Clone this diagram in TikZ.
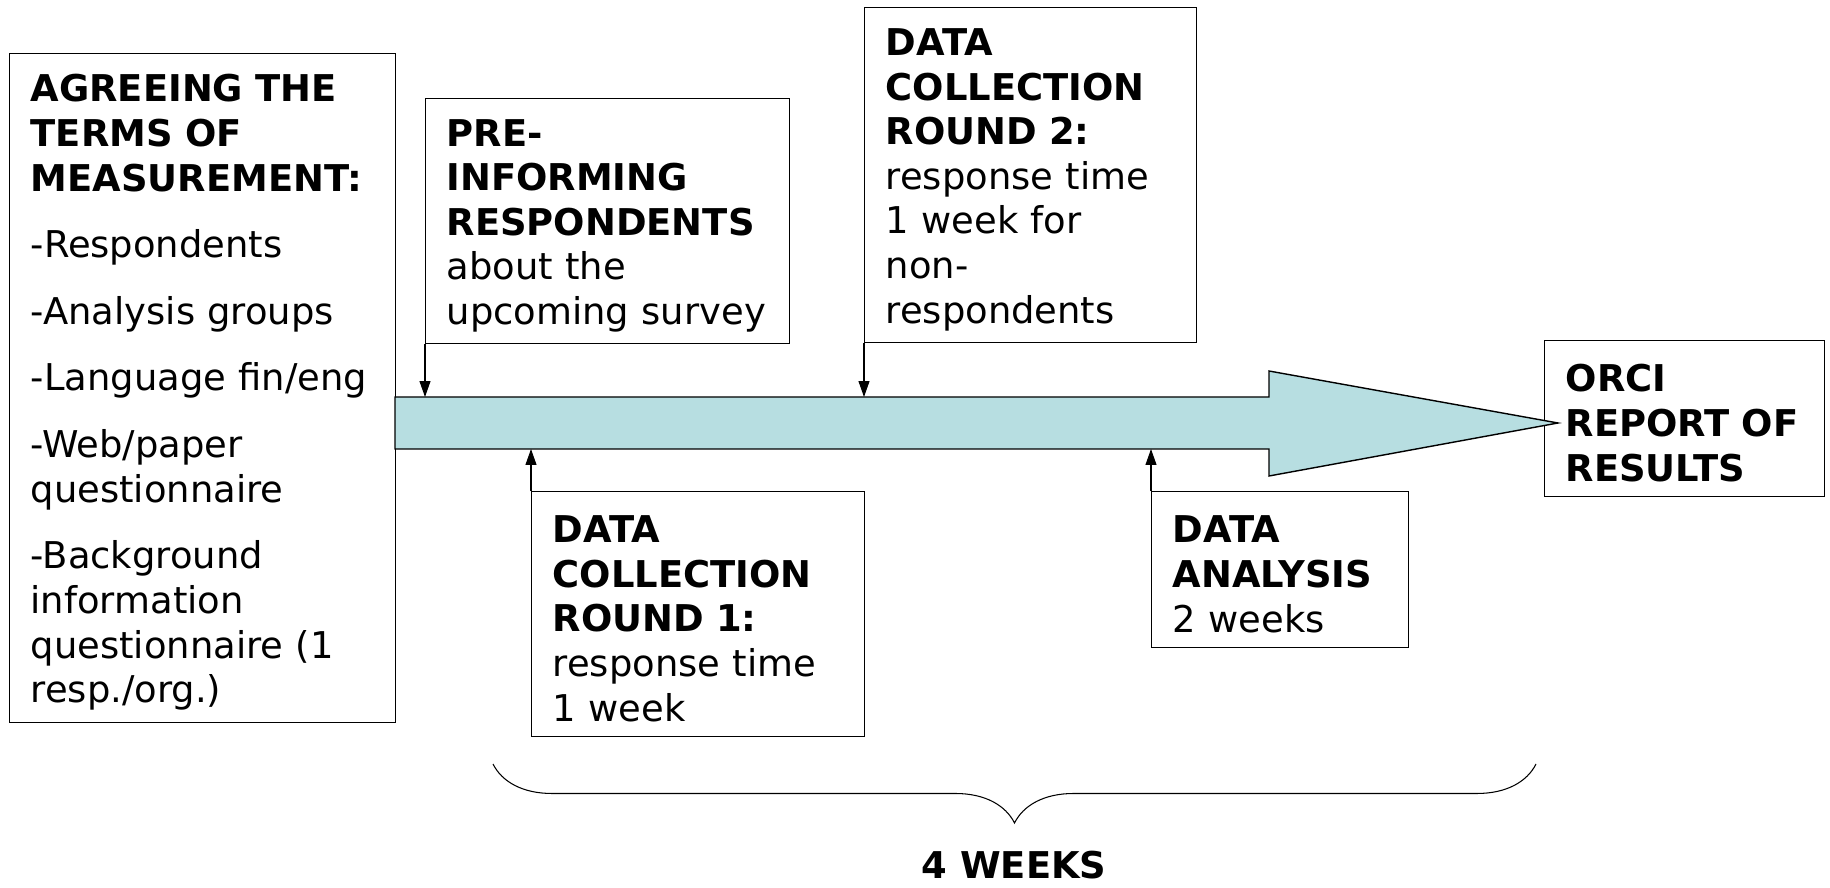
\documentclass[tikz,border=0pt]{standalone}
\usepackage{fontspec}
\setmainfont{DejaVu Sans}
\usetikzlibrary{arrows.meta, decorations.pathreplacing}

\definecolor{barblue}{RGB}{183,222,225}
\newcommand{\stagefont}{\fontsize{21}{25.4}\selectfont}

\tikzset{
  % Text box for one stage of the survey
  stage/.style={
    draw, line width=0.8pt, fill=white, anchor=north west,
    align=left, inner xsep=0.42cm, inner ysep=0pt, text height=0.72cm,
    font=\stagefont
  },
  % Big timeline arrow
  timebar/.style={
    draw, line width=0.8pt, fill=barblue
  },
  % Thin arrow from a stage box to the timeline
  tickarrow/.style={
    draw, line width=0.6pt, -{Triangle[length=0.32cm, width=0.22cm]}
  },
  % Curly brace under the timeline
  weekbrace/.style={
    draw, line width=0.6pt, decorate,
    decoration={brace, mirror, amplitude=1.18cm}
  }
}

\begin{document}
\begin{tikzpicture}[x=0.02cm, y=-0.02cm]
\useasboundingbox (0,0) rectangle (1830,888);

% ============================================================
% LEFT -- terms of measurement
% ============================================================
\node[stage, text width=6.88cm, minimum height=13.38cm] (agree) at (9,53) {
  \textbf{AGREEING THE}\\
  \textbf{TERMS OF}\\
  \textbf{MEASUREMENT:}\\[12.5pt]
  -Respondents\\[12.5pt]
  -Analysis~groups\\[12.5pt]
  -Language~fin/eng\\[12.5pt]
  -Web/paper\\
  questionnaire\\[12.5pt]
  -Background\\
  information\\
  questionnaire~(1\\
  resp./org.)};

% ============================================================
% ABOVE THE TIMELINE
% ============================================================
\node[stage, text width=6.44cm, minimum height=4.9cm] (preinf) at (425,98) {
  \textbf{PRE-}\\
  \textbf{INFORMING}\\
  \textbf{RESPONDENTS}\\
  about~the\\
  upcoming~survey};

\node[stage, text width=5.8cm, minimum height=6.7cm] (dc2) at (864,7) {
  \textbf{DATA}\\
  \textbf{COLLECTION}\\
  \textbf{ROUND~2:}\\
  response~time\\
  1~week~for\\
  non-\\
  respondents};

% ============================================================
% BELOW THE TIMELINE
% ============================================================
\node[stage, text width=5.82cm, minimum height=4.9cm] (dc1) at (531,491) {
  \textbf{DATA}\\
  \textbf{COLLECTION}\\
  \textbf{ROUND~1:}\\
  response~time\\
  1~week};

\node[stage, text width=4.3cm, minimum height=3.12cm] (da) at (1151,491) {
  \textbf{DATA}\\
  \textbf{ANALYSIS}\\
  2~weeks};

% ============================================================
% RIGHT -- final report
% ============================================================
\node[stage, text width=4.76cm, minimum height=3.12cm] (orci) at (1544,340) {
  \textbf{ORCI}\\
  \textbf{REPORT~OF}\\
  \textbf{RESULTS}};

% ============================================================
% TIMELINE
% ============================================================
\coordinate (bar-top) at (395,397);
\coordinate (bar-bot) at (395,449);
\draw[timebar] (bar-top) -- (1269,397) -- (1269,371) -- (1558,423)
  -- (1269,476) -- (1269,449) -- (bar-bot) -- cycle;

% -- stage boxes point at the timeline --
\draw[tickarrow] (preinf.south west) -- (preinf.south west |- bar-top);
\draw[tickarrow] (dc2.south west)    -- (dc2.south west |- bar-top);
\draw[tickarrow] (dc1.north west)    -- (dc1.north west |- bar-bot);
\draw[tickarrow] (da.north west)     -- (da.north west |- bar-bot);

% ============================================================
% DURATION
% ============================================================
\coordinate (brace-l) at (493,764);
\coordinate (brace-r) at (1536,764);
\draw[weekbrace] (brace-l) -- (brace-r);
\node[font=\stagefont\bfseries, inner sep=0pt] (weeks) at (1014,865) {4 WEEKS};

\end{tikzpicture}
\end{document}
